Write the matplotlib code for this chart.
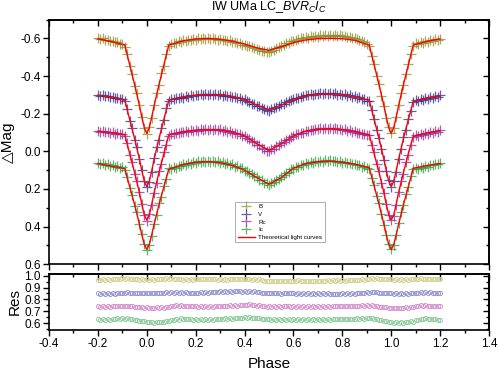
import numpy as np
import matplotlib
matplotlib.use("Agg")
import matplotlib.pyplot as plt
from matplotlib.ticker import MultipleLocator

plt.rcParams['font.family'] = ['Liberation Sans', 'DejaVu Sans']
plt.rcParams['mathtext.fontset'] = 'custom'
plt.rcParams['mathtext.it'] = 'Liberation Sans:italic'
plt.rcParams['mathtext.rm'] = 'Liberation Sans'

# ---------------- data ----------------
# observed phases (0.01 grid from -0.20 to 1.20)
phase_obs = np.round(np.arange(-20, 121) / 100.0, 2)

obs_B = [
    -0.602, -0.596, -0.600, -0.591, -0.594, -0.586, -0.588, -0.579, -0.581, -0.572,
    -0.571, -0.556, -0.518, -0.452, -0.412, -0.347, -0.308, -0.244, -0.183, -0.122,
    -0.092, -0.128, -0.178, -0.247, -0.309, -0.350, -0.414, -0.455, -0.519, -0.559,
    -0.573, -0.578, -0.576, -0.584, -0.582, -0.590, -0.586, -0.594, -0.590, -0.597,
    -0.593, -0.601, -0.596, -0.604, -0.598, -0.603, -0.595, -0.601, -0.598, -0.594,
    -0.598, -0.590, -0.594, -0.586, -0.590, -0.581, -0.583, -0.574, -0.577, -0.566,
    -0.566, -0.561, -0.559, -0.552, -0.549, -0.543, -0.540, -0.534, -0.532, -0.529,
    -0.530, -0.536, -0.541, -0.549, -0.553, -0.561, -0.566, -0.574, -0.578, -0.586,
    -0.589, -0.594, -0.598, -0.603, -0.601, -0.607, -0.604, -0.611, -0.608, -0.613,
    -0.610, -0.616, -0.612, -0.618, -0.613, -0.619, -0.614, -0.620, -0.615, -0.617,
    -0.612, -0.615, -0.608, -0.610, -0.603, -0.604, -0.596, -0.594, -0.585, -0.580,
    -0.572, -0.560, -0.508, -0.466, -0.401, -0.360, -0.296, -0.240, -0.176, -0.128,
    -0.097, -0.124, -0.184, -0.244, -0.310, -0.352, -0.410, -0.462, -0.515, -0.560,
    -0.574, -0.571, -0.580, -0.577, -0.586, -0.583, -0.591, -0.588, -0.596, -0.592,
    -0.599]

obs_V = [
    -0.301, -0.296, -0.299, -0.292, -0.295, -0.287, -0.290, -0.281, -0.284, -0.277,
    -0.279, -0.266, -0.226, -0.163, -0.124, -0.061, -0.022, 0.040, 0.100, 0.158,
    0.190, 0.162, 0.108, 0.038, -0.023, -0.062, -0.125, -0.165, -0.228, -0.268,
    -0.279, -0.276, -0.284, -0.281, -0.289, -0.286, -0.294, -0.291, -0.297, -0.293,
    -0.301, -0.297, -0.304, -0.299, -0.306, -0.300, -0.305, -0.298, -0.303, -0.299,
    -0.303, -0.296, -0.300, -0.293, -0.296, -0.288, -0.290, -0.281, -0.282, -0.272,
    -0.276, -0.266, -0.263, -0.253, -0.250, -0.241, -0.239, -0.229, -0.226, -0.220,
    -0.216, -0.225, -0.228, -0.238, -0.241, -0.250, -0.254, -0.263, -0.266, -0.273,
    -0.278, -0.283, -0.286, -0.291, -0.293, -0.298, -0.297, -0.303, -0.300, -0.306,
    -0.303, -0.309, -0.305, -0.311, -0.306, -0.310, -0.304, -0.309, -0.302, -0.307,
    -0.299, -0.303, -0.296, -0.299, -0.291, -0.293, -0.285, -0.287, -0.278, -0.280,
    -0.270, -0.268, -0.218, -0.174, -0.113, -0.073, -0.012, 0.045, 0.104, 0.155,
    0.190, 0.160, 0.110, 0.040, -0.014, -0.075, -0.114, -0.172, -0.216, -0.262,
    -0.271, -0.268, -0.276, -0.274, -0.282, -0.279, -0.287, -0.284, -0.292, -0.288,
    -0.297]

obs_Rc = [
    -0.110, -0.104, -0.108, -0.101, -0.105, -0.098, -0.101, -0.093, -0.096, -0.090,
    -0.093, -0.082, -0.044, 0.019, 0.057, 0.119, 0.156, 0.218, 0.279, 0.338,
    0.368, 0.334, 0.286, 0.222, 0.168, 0.106, 0.067, 0.006, -0.031, -0.083,
    -0.094, -0.091, -0.099, -0.096, -0.104, -0.101, -0.108, -0.104, -0.111, -0.107,
    -0.115, -0.110, -0.117, -0.112, -0.119, -0.113, -0.118, -0.111, -0.116, -0.112,
    -0.116, -0.109, -0.112, -0.104, -0.107, -0.099, -0.100, -0.091, -0.092, -0.083,
    -0.084, -0.071, -0.066, -0.053, -0.048, -0.036, -0.032, -0.019, -0.014, -0.004,
    0.001, -0.011, -0.014, -0.027, -0.031, -0.044, -0.048, -0.061, -0.066, -0.077,
    -0.080, -0.090, -0.091, -0.100, -0.100, -0.109, -0.107, -0.115, -0.112, -0.120,
    -0.116, -0.123, -0.118, -0.124, -0.119, -0.125, -0.118, -0.123, -0.116, -0.121,
    -0.113, -0.117, -0.110, -0.112, -0.104, -0.107, -0.099, -0.100, -0.092, -0.094,
    -0.087, -0.086, -0.034, 0.006, 0.067, 0.105, 0.169, 0.222, 0.282, 0.336,
    0.366, 0.342, 0.287, 0.219, 0.156, 0.118, 0.057, 0.020, -0.036, -0.076,
    -0.086, -0.082, -0.091, -0.088, -0.096, -0.093, -0.102, -0.099, -0.108, -0.104,
    -0.112]

obs_Ic = [
    0.062, 0.068, 0.064, 0.071, 0.067, 0.076, 0.073, 0.082, 0.079, 0.087,
    0.086, 0.098, 0.134, 0.195, 0.230, 0.290, 0.325, 0.386, 0.440, 0.495,
    0.525, 0.498, 0.448, 0.385, 0.336, 0.277, 0.241, 0.182, 0.145, 0.088,
    0.092, 0.084, 0.087, 0.078, 0.080, 0.070, 0.072, 0.063, 0.066, 0.058,
    0.060, 0.053, 0.058, 0.051, 0.056, 0.050, 0.057, 0.052, 0.059, 0.054,
    0.062, 0.058, 0.066, 0.063, 0.072, 0.070, 0.081, 0.079, 0.090, 0.090,
    0.103, 0.104, 0.117, 0.119, 0.133, 0.135, 0.151, 0.153, 0.168, 0.170,
    0.178, 0.168, 0.163, 0.152, 0.146, 0.136, 0.128, 0.115, 0.108, 0.096,
    0.092, 0.081, 0.083, 0.073, 0.075, 0.064, 0.066, 0.056, 0.060, 0.052,
    0.057, 0.050, 0.055, 0.048, 0.054, 0.047, 0.053, 0.049, 0.056, 0.052,
    0.060, 0.055, 0.064, 0.060, 0.069, 0.066, 0.075, 0.072, 0.081, 0.079,
    0.087, 0.092, 0.140, 0.179, 0.238, 0.276, 0.334, 0.390, 0.446, 0.492,
    0.520, 0.499, 0.443, 0.383, 0.323, 0.288, 0.228, 0.192, 0.133, 0.094,
    0.088, 0.093, 0.083, 0.087, 0.077, 0.081, 0.071, 0.075, 0.066, 0.070,
    0.062]

# theoretical light curves
phase_model = [-0.20, -0.15, -0.09, -0.07, -0.05, -0.03, -0.02, -0.01, 0.00,
               0.01, 0.02, 0.03, 0.05, 0.07, 0.09, 0.15, 0.20, 0.25, 0.30,
               0.35, 0.40, 0.45, 0.50, 0.55, 0.60, 0.65, 0.70, 0.75, 0.80,
               0.85, 0.91, 0.93, 0.95, 0.97, 0.98, 0.99, 1.00, 1.01, 1.02,
               1.03, 1.05, 1.07, 1.09, 1.15, 1.20]

model_B = [-0.598, -0.585, -0.565, -0.460, -0.355, -0.243, -0.180, -0.125, -0.095,
           -0.125, -0.180, -0.243, -0.355, -0.460, -0.565, -0.588, -0.597, -0.600, -0.596,
           -0.586, -0.570, -0.550, -0.537, -0.556, -0.578, -0.592, -0.599, -0.601, -0.599,
           -0.590, -0.565, -0.460, -0.355, -0.243, -0.180, -0.125, -0.095, -0.125, -0.180,
           -0.243, -0.355, -0.460, -0.565, -0.586, -0.598]

model_V = [-0.298, -0.288, -0.272, -0.170, -0.068, 0.042, 0.105, 0.160, 0.187,
           0.160, 0.105, 0.042, -0.068, -0.170, -0.272, -0.290, -0.298, -0.302, -0.300,
           -0.292, -0.275, -0.245, -0.221, -0.245, -0.275, -0.295, -0.305, -0.305, -0.300,
           -0.290, -0.272, -0.170, -0.068, 0.042, 0.105, 0.160, 0.187, 0.160, 0.105,
           0.042, -0.068, -0.170, -0.265, -0.285, -0.295]

model_Rc = [-0.107, -0.100, -0.088, 0.012, 0.112, 0.220, 0.283, 0.340, 0.365,
            0.340, 0.283, 0.220, 0.112, 0.012, -0.088, -0.105, -0.112, -0.115, -0.113,
            -0.103, -0.082, -0.040, -0.005, -0.040, -0.082, -0.108, -0.118, -0.120, -0.115,
            -0.105, -0.088, 0.012, 0.112, 0.220, 0.283, 0.340, 0.365, 0.340, 0.283,
            0.220, 0.112, 0.012, -0.080, -0.098, -0.110]

model_Ic = [0.065, 0.078, 0.092, 0.188, 0.283, 0.388, 0.445, 0.497, 0.522,
            0.497, 0.445, 0.388, 0.283, 0.188, 0.095, 0.070, 0.058, 0.055, 0.060,
            0.075, 0.100, 0.140, 0.175, 0.140, 0.090, 0.065, 0.055, 0.052, 0.058,
            0.068, 0.088, 0.184, 0.281, 0.388, 0.445, 0.497, 0.522, 0.497, 0.445,
            0.388, 0.283, 0.188, 0.090, 0.075, 0.065]

# residuals (shifted)
res_B = [
    0.966, 0.962, 0.968, 0.964, 0.970, 0.966, 0.972, 0.968, 0.975, 0.971,
    0.978, 0.973, 0.976, 0.970, 0.974, 0.968, 0.972, 0.967, 0.971, 0.966,
    0.969, 0.965, 0.970, 0.967, 0.973, 0.969, 0.975, 0.971, 0.977, 0.973,
    0.976, 0.971, 0.974, 0.969, 0.972, 0.967, 0.971, 0.966, 0.970, 0.967,
    0.972, 0.968, 0.974, 0.970, 0.975, 0.970, 0.973, 0.968, 0.971, 0.966,
    0.970, 0.966, 0.971, 0.967, 0.973, 0.968, 0.974, 0.970, 0.975, 0.971,
    0.974, 0.969, 0.972, 0.967, 0.970, 0.965, 0.968, 0.963, 0.958, 0.955,
    0.958, 0.953, 0.957, 0.952, 0.956, 0.951, 0.955, 0.952, 0.957, 0.953,
    0.958, 0.954, 0.959, 0.955, 0.957, 0.952, 0.956, 0.951, 0.955, 0.952,
    0.957, 0.953, 0.958, 0.954, 0.959, 0.955, 0.960, 0.956, 0.961, 0.957,
    0.962, 0.958, 0.963, 0.959, 0.965, 0.961, 0.967, 0.963, 0.970, 0.966,
    0.975, 0.971, 0.977, 0.972, 0.976, 0.971, 0.974, 0.969, 0.972, 0.968,
    0.971, 0.966, 0.970, 0.965, 0.969, 0.965, 0.970, 0.966, 0.972, 0.968,
    0.974, 0.970, 0.976, 0.971, 0.975, 0.970, 0.973, 0.969, 0.974, 0.970,
    0.972]

res_V = [
    0.852, 0.848, 0.853, 0.849, 0.851, 0.846, 0.850, 0.847, 0.853, 0.850,
    0.858, 0.854, 0.860, 0.855, 0.858, 0.853, 0.856, 0.851, 0.855, 0.851,
    0.854, 0.850, 0.855, 0.851, 0.856, 0.852, 0.857, 0.853, 0.859, 0.855,
    0.861, 0.857, 0.862, 0.858, 0.861, 0.856, 0.859, 0.855, 0.858, 0.854,
    0.858, 0.855, 0.860, 0.856, 0.862, 0.858, 0.864, 0.860, 0.866, 0.862,
    0.867, 0.863, 0.869, 0.865, 0.870, 0.866, 0.871, 0.867, 0.870, 0.866,
    0.869, 0.865, 0.868, 0.864, 0.867, 0.862, 0.864, 0.858, 0.856, 0.852,
    0.855, 0.851, 0.854, 0.850, 0.853, 0.849, 0.853, 0.850, 0.854, 0.850,
    0.853, 0.849, 0.852, 0.848, 0.851, 0.847, 0.851, 0.848, 0.852, 0.848,
    0.851, 0.847, 0.850, 0.846, 0.850, 0.846, 0.849, 0.845, 0.849, 0.846,
    0.850, 0.846, 0.851, 0.847, 0.852, 0.848, 0.854, 0.851, 0.858, 0.855,
    0.862, 0.858, 0.863, 0.859, 0.861, 0.856, 0.858, 0.853, 0.856, 0.851,
    0.853, 0.849, 0.852, 0.848, 0.851, 0.847, 0.852, 0.849, 0.854, 0.850,
    0.856, 0.853, 0.859, 0.855, 0.860, 0.856, 0.859, 0.855, 0.858, 0.854,
    0.856]

res_Rc = [
    0.742, 0.738, 0.741, 0.737, 0.743, 0.739, 0.745, 0.741, 0.746, 0.742,
    0.748, 0.744, 0.747, 0.742, 0.744, 0.739, 0.740, 0.735, 0.736, 0.731,
    0.733, 0.728, 0.732, 0.727, 0.733, 0.729, 0.736, 0.732, 0.740, 0.736,
    0.746, 0.742, 0.750, 0.745, 0.751, 0.746, 0.749, 0.744, 0.747, 0.742,
    0.745, 0.740, 0.744, 0.739, 0.743, 0.738, 0.743, 0.739, 0.745, 0.741,
    0.746, 0.742, 0.748, 0.744, 0.750, 0.746, 0.752, 0.748, 0.754, 0.750,
    0.757, 0.752, 0.759, 0.753, 0.756, 0.749, 0.751, 0.745, 0.743, 0.738,
    0.742, 0.738, 0.743, 0.739, 0.744, 0.740, 0.745, 0.741, 0.744, 0.740,
    0.743, 0.739, 0.742, 0.738, 0.741, 0.737, 0.741, 0.738, 0.742, 0.738,
    0.742, 0.738, 0.743, 0.739, 0.744, 0.740, 0.745, 0.741, 0.746, 0.742,
    0.745, 0.741, 0.746, 0.742, 0.747, 0.743, 0.748, 0.744, 0.750, 0.746,
    0.752, 0.747, 0.750, 0.745, 0.746, 0.740, 0.740, 0.734, 0.734, 0.729,
    0.730, 0.725, 0.729, 0.725, 0.731, 0.727, 0.734, 0.730, 0.739, 0.735,
    0.745, 0.741, 0.750, 0.746, 0.751, 0.746, 0.749, 0.744, 0.746, 0.742,
    0.743]

res_Ic = [
    0.632, 0.628, 0.633, 0.629, 0.635, 0.631, 0.637, 0.633, 0.640, 0.636,
    0.643, 0.639, 0.641, 0.636, 0.636, 0.630, 0.629, 0.623, 0.621, 0.615,
    0.614, 0.608, 0.611, 0.606, 0.611, 0.607, 0.614, 0.610, 0.619, 0.615,
    0.628, 0.624, 0.636, 0.631, 0.640, 0.635, 0.639, 0.634, 0.636, 0.631,
    0.634, 0.629, 0.633, 0.628, 0.634, 0.629, 0.636, 0.631, 0.637, 0.633,
    0.638, 0.634, 0.640, 0.636, 0.642, 0.638, 0.644, 0.640, 0.646, 0.642,
    0.649, 0.644, 0.650, 0.645, 0.648, 0.642, 0.644, 0.638, 0.637, 0.632,
    0.636, 0.631, 0.635, 0.630, 0.634, 0.629, 0.634, 0.630, 0.635, 0.631,
    0.634, 0.630, 0.633, 0.629, 0.632, 0.628, 0.632, 0.628, 0.633, 0.629,
    0.633, 0.629, 0.634, 0.630, 0.635, 0.631, 0.636, 0.632, 0.637, 0.633,
    0.637, 0.633, 0.638, 0.634, 0.639, 0.635, 0.640, 0.636, 0.642, 0.638,
    0.645, 0.640, 0.641, 0.635, 0.633, 0.627, 0.624, 0.618, 0.617, 0.611,
    0.612, 0.606, 0.609, 0.604, 0.609, 0.605, 0.613, 0.609, 0.618, 0.614,
    0.630, 0.626, 0.638, 0.633, 0.641, 0.636, 0.638, 0.633, 0.632, 0.627,
    0.624]

band_names = ["B", "V", "Rc", "Ic"]
obs_colors = ["#8c8c2a", "#2c2c8c", "#8e2c9c", "#2c9c3c"]
res_colors = ["#cfcf8a", "#8f8fcf", "#d58ccd", "#86c996"]
model_label = "Theoretical light curves"
title_text = r"IW UMa LC_$BVR_CI_C$"
x_ticks = [-0.4, -0.2, 0.0, 0.2, 0.4, 0.6, 0.8, 1.0, 1.2, 1.4]
x_ticklabels = ["-0.4", "-0.2", "0.0", "0.2", "0.4", "0.6", "0.8", "1.0", "1.2", "1.4"]
y_ticks = [-0.6, -0.4, -0.2, 0.0, 0.2, 0.4, 0.6]
y_ticklabels = ["-0.6", "-0.4", "-0.2", "0.0", "0.2", "0.4", "0.6"]
r_ticks = [0.6, 0.7, 0.8, 0.9, 1.0]
r_ticklabels = ["0.6", "0.7", "0.8", "0.9", "1.0"]

# ---------------- figure ----------------
fig = plt.figure(figsize=(4.98, 3.71), dpi=100)
ax = fig.add_axes([0.0984, 0.288, 0.8836, 0.659])
axr = fig.add_axes([0.0984, 0.111, 0.8836, 0.151])

obs_sets = [obs_B, obs_V, obs_Rc, obs_Ic]
model_sets = [model_B, model_V, model_Rc, model_Ic]
res_sets = [res_B, res_V, res_Rc, res_Ic]

for name, obs, col in zip(band_names, obs_sets, obs_colors):
    ax.plot(phase_obs, obs, linestyle='none', marker='+', markersize=7,
            markeredgewidth=0.9, color=col, alpha=0.75, label=name)
for i, mod in enumerate(model_sets):
    ax.plot(phase_model, mod, color='#ff0000', lw=1.0,
            label=model_label if i == 0 else None, zorder=5)

for res, col in zip(res_sets, res_colors):
    axr.plot(phase_obs, res, linestyle='none', marker='o', markersize=3.0,
             markerfacecolor='none', markeredgewidth=0.6, color=col)


def style_axes(a, ylim, yticks, yticklabels, yminor, show_xlabels):
    a.set_xlim(-0.4, 1.4)
    a.set_ylim(*ylim)
    a.set_xticks(x_ticks)
    a.xaxis.set_minor_locator(MultipleLocator(0.1))
    a.set_yticks(yticks)
    a.yaxis.set_minor_locator(MultipleLocator(yminor))
    a.set_yticklabels(yticklabels)
    if show_xlabels:
        a.set_xticklabels(x_ticklabels)
    else:
        a.tick_params(labelbottom=False)
    for s in a.spines.values():
        s.set_linewidth(1.2)
    a.tick_params(which='both', direction='out', width=1.0, labelsize=8.5, pad=2)
    a.tick_params(which='major', length=4)
    a.tick_params(which='minor', length=2.5)
    # mirrored inward ticks on top and right
    top = a.secondary_xaxis('top')
    top.set_xticks(x_ticks)
    top.xaxis.set_minor_locator(MultipleLocator(0.1))
    top.tick_params(which='both', direction='in', width=1.0, labeltop=False)
    top.tick_params(which='major', length=4)
    top.tick_params(which='minor', length=2.5)
    right = a.secondary_yaxis('right')
    right.set_yticks(yticks)
    right.yaxis.set_minor_locator(MultipleLocator(yminor))
    right.tick_params(which='both', direction='in', width=1.0, labelright=False)
    right.tick_params(which='major', length=4)
    right.tick_params(which='minor', length=2.5)
    for sa in (top, right):
        for s in sa.spines.values():
            s.set_linewidth(1.2)


style_axes(ax, (0.6, -0.7), y_ticks, y_ticklabels, 0.1, False)
style_axes(axr, (0.545, 1.015), r_ticks, r_ticklabels, 0.05, True)

ax.set_ylabel("△Mag", fontsize=11, labelpad=4)
ax.set_title(title_text, fontsize=9, pad=7)
axr.set_ylabel("Res", fontsize=11, labelpad=2)
axr.set_xlabel("Phase", fontsize=11, labelpad=5)

leg = ax.legend(loc='upper left', bbox_to_anchor=(0.423, 0.256), fontsize=4.5,
                frameon=True, fancybox=False, edgecolor='#888888',
                handlelength=2.8, borderpad=0.4, labelspacing=0.35,
                handletextpad=0.5, borderaxespad=0)
leg.get_frame().set_linewidth(0.6)

fig.savefig("out.png", dpi=100)
